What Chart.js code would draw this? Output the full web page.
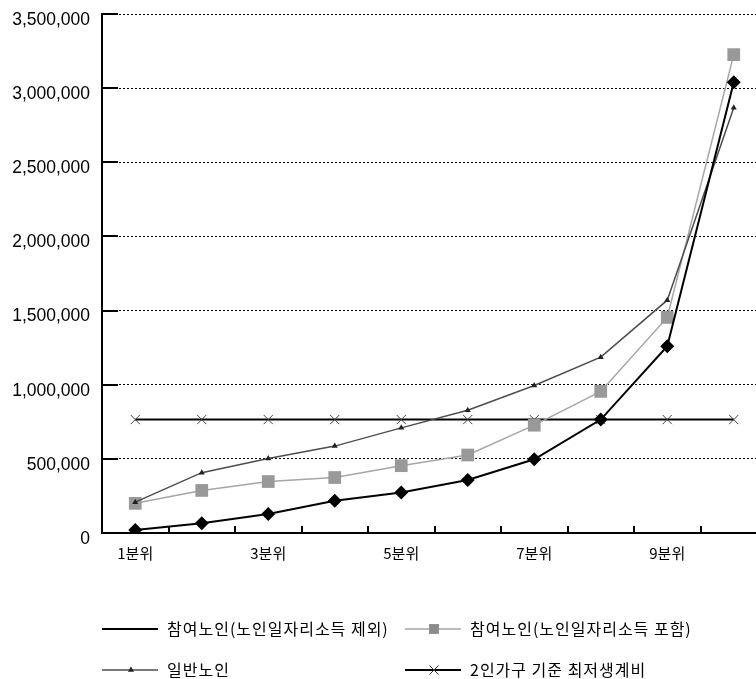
<!DOCTYPE html>
<html>
<head>
<meta charset="utf-8">
<script src="https://cdn.jsdelivr.net/npm/chart.js@4.4.1/dist/chart.umd.min.js"></script>
<style>
body { margin: 0; background: #fff; overflow: hidden; }
</style>
</head>
<body>
<canvas id="myChart" width="790" height="679"></canvas>
<script>
let quintiles = ['1분위', '2분위', '3분위', '4분위', '5분위', '6분위', '7분위', '8분위', '9분위', '10분위'];
let series_names = ['참여노인(노인일자리소득 제외)', '참여노인(노인일자리소득 포함)', '일반노인', '2인가구 기준 최저생계비'];
let excl_job = [20000, 65000, 128000, 217000, 273000, 358000, 497000, 765000, 1260000, 3040000];
let incl_job = [200000, 287000, 347000, 374000, 454000, 526000, 727000, 955000, 1454000, 3226000];
let general_elder = [208000, 407000, 503000, 586000, 709000, 828000, 995000, 1186000, 1570000, 2868000];
let min_living = [765000, 765000, 765000, 765000, 765000, 765000, 765000, 765000, 765000, 765000];
let y_min = 0, y_max = 3500000, y_step = 500000;

let legend_pos = [[102, 629], [405, 629], [102, 670], [405, 670]];
let legend_marker = [null, {style: 'rect', r: 7, color: '#8c8c8c'}, {style: 'triangle', r: 3.5, color: '#222'}, {style: 'crossRot', r: 6.5, color: '#333'}];

function fmt(v) { return v.toLocaleString('en-US'); }

// short tick marks pointing into the plot
const innerTicks = {
	id: 'innerTicks',
	beforeDatasetsDraw(chart) {
		const ctx = chart.ctx;
		const x = chart.scales.x, y = chart.scales.y;
		ctx.save();
		ctx.strokeStyle = '#000';
		ctx.lineWidth = 2;
		ctx.beginPath();
		y.ticks.forEach((t, i) => {
			let py = Math.round(y.getPixelForTick(i));
			ctx.moveTo(x.left, py);
			ctx.lineTo(x.left + 16, py);
		});
		for (let i = 0; i < quintiles.length; i++) {
			let px = Math.round(x.getPixelForValue(i + 0.5));
			ctx.moveTo(px, y.bottom);
			ctx.lineTo(px, y.bottom - 7);
		}
		ctx.stroke();
		ctx.restore();
	}
};

// two-column legend under the plot
const legendGrid = {
	id: 'legendGrid',
	afterDraw(chart) {
		const ctx = chart.ctx;
		chart.data.datasets.forEach((ds, i) => {
			let [lx, ly] = legend_pos[i];
			ctx.save();
			ctx.strokeStyle = ds.borderColor;
			ctx.lineWidth = ds.borderWidth;
			ctx.beginPath();
			ctx.moveTo(lx, ly);
			ctx.lineTo(lx + 56, ly);
			ctx.stroke();
			let m = legend_marker[i];
			if (m) {
				ctx.fillStyle = m.color;
				ctx.strokeStyle = m.color;
				ctx.lineWidth = 1;
				Chart.helpers.drawPoint(ctx, {pointStyle: m.style, radius: m.r, rotation: 0, borderWidth: m.style == 'crossRot' ? 1 : 0}, lx + 29, ly);
			}
			ctx.fillStyle = '#000';
			ctx.font = '16px "Noto Sans CJK KR"';
			ctx.letterSpacing = '1px';
			ctx.textBaseline = 'middle';
			ctx.fillText(ds.label, lx + 65, ly);
			ctx.restore();
		});
	}
};

const ctx = document.getElementById('myChart').getContext('2d');
const myChart = new Chart(ctx, {
	type: 'line',
	data: {
		labels: quintiles,
		datasets: [{
			label: series_names[0], data: excl_job, order: 0,
			borderColor: '#000', backgroundColor: '#000', borderWidth: 2,
			pointStyle: 'rectRot', pointRadius: 7, pointBorderWidth: 0
		}, {
			label: series_names[1], data: incl_job, order: 2,
			borderColor: '#a6a6a6', backgroundColor: '#999', borderWidth: 1.5,
			pointStyle: 'rect', pointRadius: 9, pointBorderWidth: 0
		}, {
			label: series_names[2], data: general_elder, order: 1,
			borderColor: '#4d4d4d', backgroundColor: '#222', borderWidth: 1.5,
			pointStyle: 'triangle', pointRadius: 3.5, pointBorderWidth: 0
		}, {
			label: series_names[3], data: min_living, order: 3,
			borderColor: '#000', backgroundColor: '#444', borderWidth: 2,
			pointStyle: 'crossRot', pointRadius: 6.5, pointBorderWidth: 1, pointBorderColor: '#444'
		}]
	},
	options: {
		responsive: false,
		animation: false,
		layout: { padding: { left: 12, right: 23, top: 14, bottom: 106 } },
		plugins: { legend: { display: false }, tooltip: { enabled: false } },
		elements: { line: { tension: 0, fill: false } },
		scales: {
			x: {
				offset: true,
				grid: { display: false, offset: true, drawTicks: false },
				border: { display: true, color: '#000', width: 2 },
				ticks: {
					autoSkip: false, maxRotation: 0, padding: 11, color: '#000',
					font: { family: '"Noto Sans CJK KR"', size: 15 },
					callback: function(val, index) {
						return index % 2 === 0 ? this.getLabelForValue(val) : '';
					}
				}
			},
			y: {
				min: y_min, max: y_max,
				afterFit: function(scale) {
					scale.width = 90;
					scale.paddingTop = 0;
					scale.paddingBottom = 0;
				},
				grid: { color: '#000', lineWidth: 1, drawTicks: false },
				border: { display: true, color: '#000', width: 2, dash: [2, 2] },
				ticks: {
					stepSize: y_step, padding: 12, labelOffset: 6, color: '#000',
					font: { family: '"Liberation Sans"', size: 17.5 },
					callback: function(value) { return fmt(value); }
				}
			}
		}
	},
	plugins: [innerTicks, legendGrid]
});
</script>
</body>
</html>
